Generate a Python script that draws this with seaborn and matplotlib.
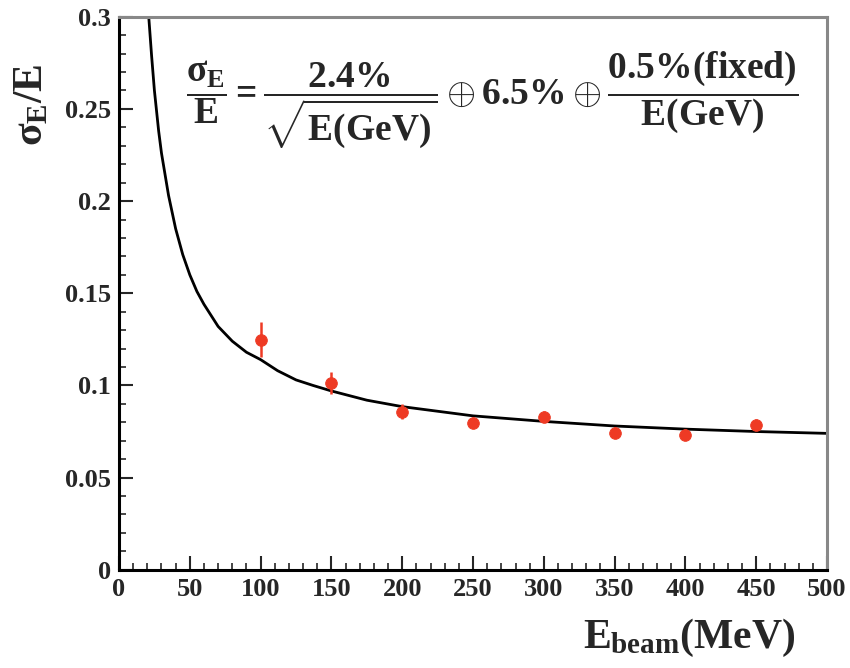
import numpy as np
import pandas as pd
import matplotlib
matplotlib.use('Agg')
import matplotlib.pyplot as plt
import seaborn as sns

e_beam = [100, 150, 200, 250, 300, 350, 400, 450]
sigma_e = [0.1248, 0.1015, 0.0857, 0.0798, 0.0830, 0.0743, 0.0733, 0.0787]
sigma_err = [0.0095, 0.006, 0.004, 0.003, 0.003, 0.003, 0.003, 0.003]

# fit curve
curve_e = [21, 23, 25, 28, 30, 35, 40, 45, 50, 55, 60, 70, 80, 90, 100, 112,
           125, 137, 150, 175, 200, 250, 300, 350, 400, 450, 500]
curve_sigma = [0.300, 0.279, 0.260, 0.238, 0.226, 0.203, 0.185, 0.171, 0.160,
               0.151, 0.144, 0.132, 0.124, 0.118, 0.114, 0.108, 0.103, 0.100,
               0.097, 0.092, 0.0885, 0.0835, 0.0805, 0.078, 0.0763, 0.075, 0.074]

df_pts = pd.DataFrame({'E': e_beam, 'S': sigma_e, 'ERR': sigma_err})
df_fit = pd.DataFrame({'E': curve_e, 'S': curve_sigma})

sns.set_style('ticks')
plt.rcParams['font.family'] = ['Liberation Serif', 'DejaVu Serif']
plt.rcParams['font.weight'] = 'bold'
plt.rcParams['mathtext.fontset'] = 'custom'
plt.rcParams['mathtext.rm'] = 'Liberation Serif:bold'
plt.rcParams['mathtext.it'] = 'Liberation Serif:bold'
plt.rcParams['mathtext.bf'] = 'Liberation Serif:bold'

fig = plt.figure(figsize=(8.5, 6.68), dpi=100)
ax = fig.add_axes([0.14, 0.147, 0.833, 0.828])

red = '#ee3a24'
sns.lineplot(df_fit, x='E', y='S', color='black', lw=2.0, sort=False, ax=ax)
ax.errorbar(df_pts.E, df_pts.S, yerr=df_pts.ERR, fmt='none', ecolor=red, elinewidth=1.8)
sns.scatterplot(df_pts, x='E', y='S', color=red, s=70, edgecolor=red, ax=ax, zorder=3)

ax.set_xlim(0, 500)
ax.set_ylim(0, 0.3)
ax.set_xticks(np.arange(0, 501, 50))
ax.set_xticks(np.arange(0, 501, 10), minor=True)
ax.set_yticks(np.arange(0, 0.301, 0.05))
ax.set_yticks(np.arange(0, 0.301, 0.01), minor=True)
ax.set_yticklabels(['0', '0.05', '0.1', '0.15', '0.2', '0.25', '0.3'])
ax.tick_params(which='major', direction='in', length=10, width=1.5, labelsize=19, pad=6)
ax.tick_params(which='minor', direction='in', length=5, width=1.2)
for lab in ax.get_xticklabels() + ax.get_yticklabels():
    lab.set_fontweight('bold')

for side in ['left', 'bottom']:
    ax.spines[side].set_color('black')
    ax.spines[side].set_linewidth(2.2)
for side in ['top', 'right']:
    ax.spines[side].set_color('#888888')
    ax.spines[side].set_linewidth(2.2)

ax.set_ylabel(r'$\sigma_E/E$', fontsize=30)
ax.yaxis.set_label_coords(-0.095, 0.84)
ax.set_xlabel(r'$E_{beam}(MeV)$', fontsize=30)
ax.xaxis.set_label_coords(0.805, -0.085)
ax.xaxis.label.set_va('top')

ax.text(0.095, 0.85,
        r'$\dfrac{\sigma_E}{E} = \dfrac{2.4\%}{\sqrt{E(GeV)}} \oplus 6.5\% \oplus \dfrac{0.5\%(fixed)}{E(GeV)}$',
        transform=ax.transAxes, fontsize=27, va='center', ha='left')

fig.savefig('out.png', dpi=100)
